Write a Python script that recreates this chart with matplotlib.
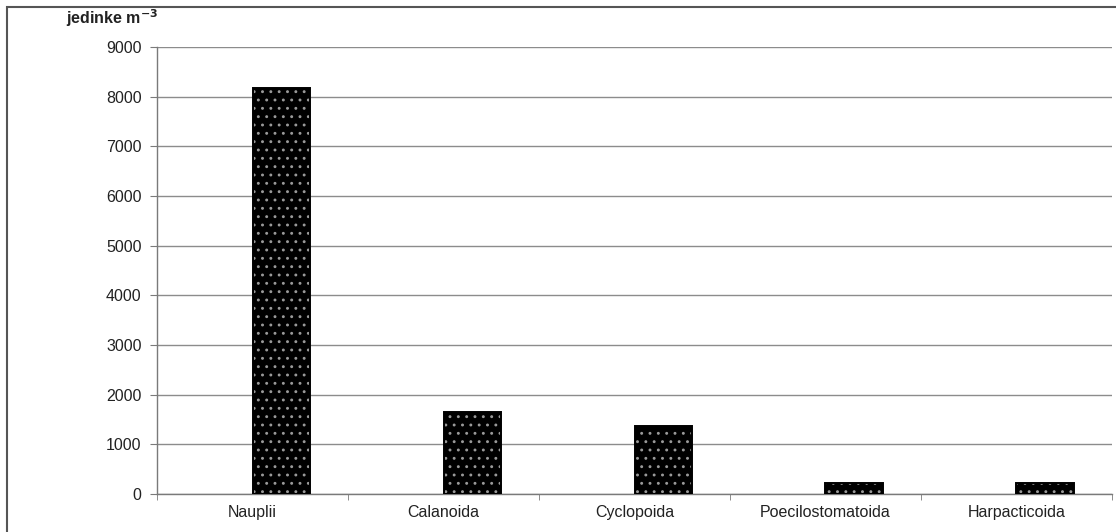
import matplotlib.pyplot as plt
import numpy as np
from matplotlib.patches import Rectangle

categories = ["Nauplii", "Calanoida", "Cyclopoida", "Poecilostomatoida", "Harpacticoida"]
values = [8170, 1650, 1370, 230, 230]
y_ticks = [0, 1000, 2000, 3000, 4000, 5000, 6000, 7000, 8000, 9000]

GRID = "#8C8C8C"
AXIS = "#7A7A7A"
TEXT = "#222222"

plt.rcParams.update(
    {
        "font.family": ["Liberation Sans", "DejaVu Sans"],
        "font.size": 11,
        "hatch.linewidth": 0.9,
    }
)

fig = plt.figure(figsize=(11.16, 5.32), dpi=100)
axis = fig.add_axes([0.1407, 0.0714, 0.8557, 0.8403])

x = np.arange(len(categories))
# grey dots on black, then a plain black outline on top
axis.bar(x, values, 0.3, align="edge", color="black", edgecolor="#9A9A9A", hatch="..", linewidth=0, zorder=3)
axis.bar(x, values, 0.3, align="edge", fill=False, edgecolor="black", linewidth=1.4, zorder=4)

axis.set_xlim(-0.5, len(categories) - 0.5)
axis.set_ylim(0, 9000)
axis.set_yticks(y_ticks)
axis.set_yticklabels([str(v) for v in y_ticks], color=TEXT, fontsize=11.5)
axis.set_xticks(x)
axis.set_xticklabels(categories, color=TEXT, fontsize=11.5)
axis.set_xticks(np.arange(len(categories) + 1) - 0.5, minor=True)
axis.tick_params(axis="x", which="major", length=0, pad=8)
axis.tick_params(axis="x", which="minor", length=4, color=AXIS, direction="out")
axis.tick_params(axis="y", length=5, color=AXIS, pad=6)

axis.grid(True, axis="y", color=GRID, linewidth=1.0, zorder=0)
axis.set_axisbelow(True)
for side in ("top", "right"):
    axis.spines[side].set_visible(False)
axis.spines["left"].set_color(AXIS)
axis.spines["bottom"].set_color(AXIS)
axis.spines["left"].set_linewidth(1.0)
axis.spines["bottom"].set_linewidth(1.0)

fig.text(0.1005, 0.966, "jedinke m$^{\\mathbf{-3}}$", ha="center", va="center",
         fontsize=11.5, fontweight="bold", color=TEXT)

# outer frame of the original figure
fig.patches.append(
    Rectangle((7 / 1116, -0.05), 1.1, 0.05 + 1 - 7 / 532, transform=fig.transFigure,
              fill=False, edgecolor="#555555", linewidth=1.5)
)

fig.savefig("out.png", dpi=100)
